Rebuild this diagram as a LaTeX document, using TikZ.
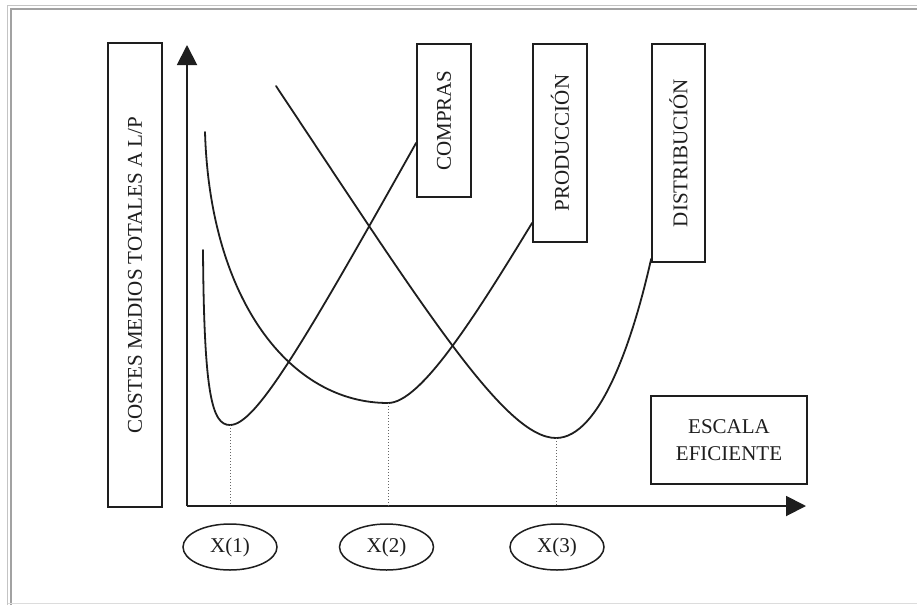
\documentclass[tikz,border=0pt]{standalone}
\usepackage{fontspec}
\usepackage{graphicx}
\setmainfont{Liberation Serif}
\usetikzlibrary{arrows.meta,shapes.geometric}
\definecolor{ink}{HTML}{1E1E1E}
\definecolor{framelight}{HTML}{C4C4C4}
\definecolor{framedark}{HTML}{A2A2A2}
\begin{document}
\begin{tikzpicture}[x=1pt,y=-1pt,
  labelbox/.style={rectangle,line width=1.7pt,draw=ink,inner sep=0pt,
    font=\fontsize{21}{27}\selectfont,text=ink,align=center},
  tickmark/.style={ellipse,line width=1.5pt,draw=ink,inner sep=0pt,
    minimum width=94pt,minimum height=46pt,
    font=\fontsize{21}{25}\selectfont,text=ink},
  curve/.style={line width=1.8pt,draw=ink,line cap=round},
  guide/.style={line width=1pt,draw=black!60,dotted},
  axis/.style={line width=1.9pt,draw=ink,-{Triangle[width=20pt,length=20pt]}}]

\useasboundingbox (0,0) rectangle (917,605);
\fill[white] (0,0) rectangle (917,605);

% window frame
\draw[framelight,line width=1.2pt] (7.5,605) -- (7.5,5.5) -- (917,5.5);
\draw[framedark,line width=2pt] (11,605) -- (11,9) -- (917,9);
\draw[framelight!60,line width=1pt] (7.5,603.5) -- (917,603.5);

% label boxes
\node[labelbox,minimum width=54pt,minimum height=464pt] (ylab) at (135,275)
  {\rotatebox{90}{COSTES MEDIOS TOTALES A L/P}};
\node[labelbox,minimum width=54pt,minimum height=153pt] (comp) at (444,120.5)
  {\rotatebox{90}{COMPRAS}};
\node[labelbox,minimum width=54pt,minimum height=198pt] (prod) at (560,143)
  {\rotatebox{90}{PRODUCCIÓN}};
\node[labelbox,minimum width=53pt,minimum height=218pt] (dist) at (678.5,153)
  {\rotatebox{90}{DISTRIBUCIÓN}};
\node[labelbox,minimum width=156pt,minimum height=88pt] (esc) at (729,440)
  {ESCALA\\EFICIENTE};

% axes
\coordinate (o) at (187,506);
\coordinate (ytip) at (187,45);
\coordinate (xtip) at (806,506);
\draw[axis] (o) -- (ytip);
\draw[axis] (o) -- (xtip);

% curve ends on the boxes
\coordinate (cend) at ([yshift=55pt]comp.south west);
\coordinate (pend) at ([yshift=20pt]prod.south west);
\coordinate (dend) at ([yshift=4pt]dist.south west);

% minima
\coordinate (m1) at (230,425);
\coordinate (m2) at (388,403);
\coordinate (m3) at (556,438);

% COMPRAS
\draw[curve] (203,250) .. controls (204,395) and (212,425) .. (m1)
  .. controls (255,425) and (300,350) .. (cend);
% PRODUCCIÓN
\draw[curve] (205,132) .. controls (210,300) and (290,403) .. (m2)
  .. controls (420,403) and (473,320) .. (pend);
% DISTRIBUCIÓN
\draw[curve] (276,86) .. controls (425,310) and (505,438) .. (m3)
  .. controls (600,438) and (633,340) .. (dend);

% guide lines to the axis
\draw[guide] (m1) -- (m1 |- o);
\draw[guide] (m2) -- (m2 |- o);
\draw[guide] (m3) -- (m3 |- o);

% efficient scales
\node[tickmark] (x1) at (230,547) {X(1)};
\node[tickmark] (x2) at (386.5,547) {X(2)};
\node[tickmark] (x3) at (557,547) {X(3)};

\end{tikzpicture}
\end{document}
